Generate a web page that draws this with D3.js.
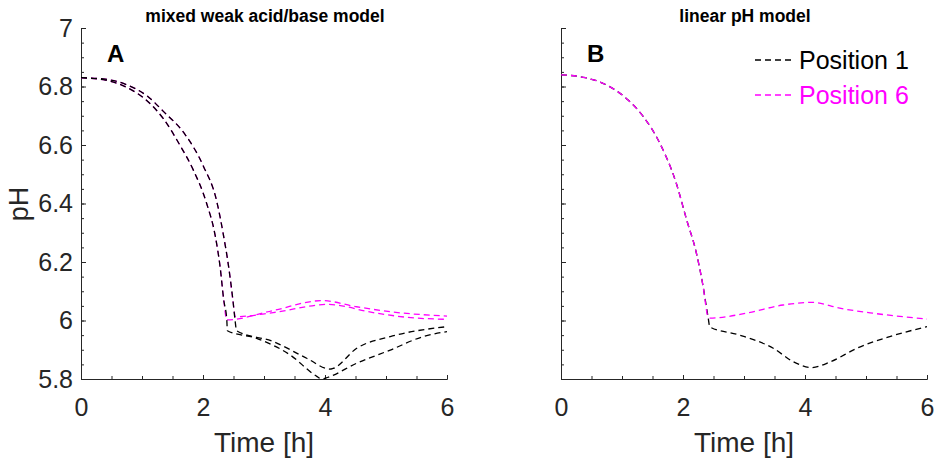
<!DOCTYPE html>
<html>
<head>
<meta charset="utf-8">
<script src="https://cdn.jsdelivr.net/npm/d3@7"></script>
<style>
  body { margin: 0; background: #fff; }
  svg { font-family: "Liberation Sans", Arial, sans-serif; }
</style>
</head>
<body>
<svg width="941" height="459"></svg>
<script>
// tick values
const timeTicks = [0, 2, 4, 6];
const timeMinor = [0, 0.5, 1, 1.5, 2, 2.5, 3, 3.5, 4, 4.5, 5, 5.5, 6];
const phTicks = [5.8, 6, 6.2, 6.4, 6.6, 6.8, 7];
const phMinor = d3.range(0, 25).map(i => +(5.8 + i * 0.05).toFixed(2));

// panel A: mixed weak acid/base model (two runs per position)
const aPos1Early = [[0, 6.830], [0.4, 6.822], [0.75, 6.797], [1.1, 6.748], [1.35, 6.690], [1.62, 6.600], [1.84, 6.515],
  [2.06, 6.400], [2.20, 6.290], [2.28, 6.184], [2.34, 6.070], [2.39, 6.002], [2.40, 5.965],
  [2.88, 5.939], [3.43, 5.882], [3.86, 5.810], [3.95, 5.800], [4.05, 5.806], [4.52, 5.854],
  [5.07, 5.899], [5.61, 5.945], [6.0, 5.962]];
const aPos1Late = [[0, 6.830], [0.4, 6.825], [0.75, 6.806], [1.1, 6.765], [1.35, 6.715], [1.71, 6.635], [2.01, 6.526],
  [2.22, 6.412], [2.33, 6.298], [2.42, 6.184], [2.49, 6.070], [2.525, 6.002], [2.55, 5.965],
  [3.15, 5.928], [3.70, 5.871], [4.08, 5.834], [4.13, 5.836], [4.52, 5.905], [5.07, 5.945], [6.0, 5.979]];
const aPos6Early = [[0, 6.830], [0.4, 6.822], [0.75, 6.797], [1.1, 6.748], [1.35, 6.690], [1.62, 6.600], [1.84, 6.515],
  [2.06, 6.400], [2.20, 6.290], [2.28, 6.184], [2.34, 6.070], [2.39, 6.002],
  [3.15, 6.034], [3.95, 6.068], [4.52, 6.047], [5.07, 6.030], [6.0, 6.015]];
const aPos6Late = [[0, 6.830], [0.4, 6.825], [0.75, 6.806], [1.1, 6.765], [1.35, 6.715], [1.71, 6.635], [2.01, 6.526],
  [2.22, 6.412], [2.33, 6.298], [2.42, 6.184], [2.49, 6.070], [2.53, 6.013],
  [3.15, 6.027], [4.05, 6.055], [4.79, 6.027], [5.34, 6.011], [6.0, 6.004]];

// panel B: linear pH model
const bPos1 = [[0, 6.840], [0.4, 6.830], [0.75, 6.805], [1.1, 6.754], [1.35, 6.697], [1.62, 6.606], [1.89, 6.469],
  [2.06, 6.344], [2.22, 6.230], [2.33, 6.116], [2.41, 6.013], [2.44, 5.978],
  [2.93, 5.950], [3.48, 5.905], [3.81, 5.859], [4.11, 5.839], [4.41, 5.858], [4.85, 5.905],
  [5.39, 5.945], [6.0, 5.979]];
const bPos6 = [[0, 6.840], [0.4, 6.830], [0.75, 6.805], [1.1, 6.754], [1.35, 6.697], [1.62, 6.606], [1.89, 6.469],
  [2.06, 6.344], [2.22, 6.230], [2.33, 6.116], [2.41, 6.013], [2.44, 6.008],
  [3.04, 6.025], [3.64, 6.053], [4.13, 6.062], [4.57, 6.042], [5.11, 6.025], [6.0, 6.005]];

const BLACK = "#000000", MAGENTA = "#ff00ff", AXIS = "#262626";

const svg = d3.select("svg");
const y = d3.scaleLinear().domain([5.8, 7]).range([379, 28]);

const panels = [
  { left: 81, title: "mixed weak acid/base model", letter: "A", labels: true,
    series: [[aPos6Early, MAGENTA], [aPos6Late, MAGENTA], [aPos1Early, BLACK], [aPos1Late, BLACK]] },
  { left: 561, title: "linear pH model", letter: "B", labels: false,
    series: [[bPos1, BLACK], [bPos6, MAGENTA]] }
];

panels.forEach(p => {
  const x = d3.scaleLinear().domain([0, 6]).range([p.left, p.left + 366]);
  const g = svg.append("g");

  // minor ticks
  g.append("g").attr("transform", "translate(0,379)")
    .call(d3.axisBottom(x).tickValues(timeMinor).tickSize(-3).tickSizeOuter(0).tickFormat(""));
  g.append("g").attr("transform", `translate(${p.left},0)`)
    .call(d3.axisLeft(y).tickValues(phMinor).tickSize(-3).tickSizeOuter(0).tickFormat(""));

  // major ticks + labels
  g.append("g").attr("transform", "translate(0,379)")
    .call(d3.axisBottom(x).tickValues(timeTicks).tickSize(-4).tickSizeOuter(0).tickPadding(19)
      .tickFormat(d3.format("d")));
  g.append("g").attr("transform", `translate(${p.left},0)`)
    .call(d3.axisLeft(y).tickValues(phTicks).tickSize(-5).tickSizeOuter(0).tickPadding(8)
      .tickFormat(p.labels ? d => String(+d.toFixed(1)) : ""));

  g.selectAll(".domain, .tick line").attr("stroke", AXIS).attr("stroke-width", 1);
  g.selectAll(".tick text").attr("fill", AXIS).style("font-size", "25px");

  const line = d3.line().x(d => x(d[0])).y(d => y(d[1])).curve(d3.curveMonotoneX);
  p.series.forEach(([data, color]) => {
    g.append("path").datum(data).attr("d", line)
      .attr("fill", "none").attr("stroke", color).attr("stroke-width", 1.3)
      .attr("stroke-dasharray", "6,4");
  });

  g.append("text").attr("x", p.left + 184).attr("y", 22).attr("text-anchor", "middle")
    .style("font-size", "17.5px").style("font-weight", "bold").text(p.title);
  g.append("text").attr("x", p.left + 26).attr("y", 62).style("font-size", "24px")
    .style("font-weight", "bold").text(p.letter);
  g.append("text").attr("x", p.left + 183).attr("y", 452).attr("text-anchor", "middle")
    .attr("fill", AXIS).style("font-size", "28px").text("Time [h]");
});

svg.append("text").attr("transform", "translate(28,204) rotate(-90)").attr("text-anchor", "middle")
  .attr("fill", AXIS).style("font-size", "27px").text("pH");

// legend
const legendItems = ["Position 1", "Position 6"];
const legendColors = [BLACK, MAGENTA];
legendItems.forEach((name, i) => {
  const ly = 60 + i * 35;
  svg.append("line").attr("x1", 755).attr("x2", 795).attr("y1", ly).attr("y2", ly)
    .attr("stroke", legendColors[i]).attr("stroke-width", 1.3).attr("stroke-dasharray", "6,4");
  svg.append("text").attr("x", 799).attr("y", ly + 9).attr("fill", legendColors[i])
    .style("font-size", "25px").text(name);
});
</script>
</body>
</html>
